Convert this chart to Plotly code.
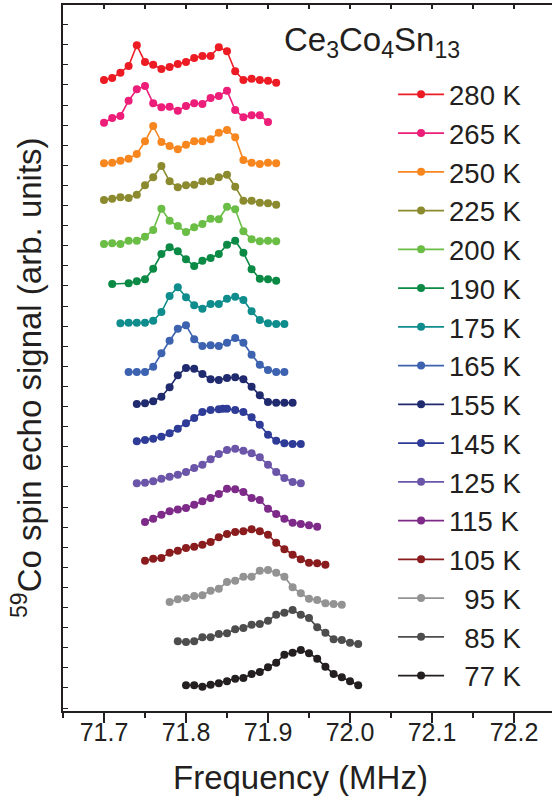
import plotly.graph_objects as go

# Frequency grid (MHz)
FREQ = [71.70, 71.71, 71.72, 71.73, 71.74, 71.75, 71.76, 71.77, 71.78, 71.79,
        71.80, 71.81, 71.82, 71.83, 71.84, 71.85, 71.86, 71.87, 71.88, 71.89,
        71.90, 71.91, 71.92, 71.93, 71.94, 71.95, 71.96, 71.97, 71.98, 71.99,
        72.00, 72.01]

temps = ["280 K", "265 K", "250 K", "225 K", "200 K", "190 K", "175 K", "165 K",
         "155 K", "145 K", "125 K", "115 K", "105 K", "\u200795 K", "\u200785 K", "\u200777 K"]

colors = ["#ed1c24", "#ec1e79", "#f7861f", "#8c8a2e", "#6abd45", "#0b8a45",
          "#0f8c8c", "#3c62b0", "#202a6e", "#2e3b97", "#6a55a8", "#7d2a88",
          "#8a1c1e", "#939393", "#4d4d4d", "#231f20"]

# vertical stacking offsets (arb. units)
offsets = [630, 588, 547, 506, 467, 427, 387, 339, 307, 267, 227, 184, 146, 106, 67, 24]

# spin echo signals (arb. units), baseline subtracted
s280 = [1, 3, 8.3, 15, 35.7, 19, 16.3, 12, 14, 17, 19, 23, 25, 25, 33.7, 29.7, 9.7, 1, 2.3, 1, 0.3, -1.7]
s265 = [0.3, 5, 7, 22.3, 33.7, 37, 19.7, 15.7, 16.3, 12.3, 17, 19.7, 19, 25, 27, 32.3, 13, 5.7, 7.7, 7.7, 1]
s250 = [0.7, 1.3, 3.3, 5.3, 10, 22.7, 38, 22, 18, 14.7, 19.3, 22.7, 22.7, 24.7, 31.3, 34, 26.7, 4, 1.3, 0, 1.3, 0.7]
s225 = [5, 6.3, 7.7, 7, 10.3, 19.7, 27.7, 39, 23.7, 17.7, 19.7, 20.3, 23.7, 23.7, 27.7, 30.3, 18.3, 4.3, 4.3, 2.3, 1.7, 0.3]
s200 = [0, 0.7, 0, 3.3, 3.3, 7.3, 14, 35.3, 23.3, 18, 12, 16.7, 20, 25.3, 24.7, 37.3, 34.7, 12.7, 4.7, 2.7, 3.3, 2.7]
s190 = [0, 0.7, 2.7, 4.7, 15.3, 30, 36.7, 32.7, 24.7, 18, 23.3, 26, 30, 39.3, 43.3, 31.3, 14.7, 5.3, 4.7, 3.3]
s175 = [0.7, 1.3, 1.3, 1.3, 3.3, 12, 28, 36.7, 26.7, 18.7, 15.3, 20, 20, 25.3, 27.3, 24, 12.7, 4, 0.7, 0, 0]
s165 = [0, 0, 0, 5.3, 18.7, 31.3, 43.3, 46.7, 32.7, 26, 26.7, 26, 29.3, 34, 29.3, 17.3, 7.3, 2, 0, 0]
s155 = [0, 0.7, 2.7, 7.3, 16.7, 28.7, 36, 35.3, 30, 24.7, 24, 26, 26.7, 24.7, 17.3, 8.7, 2, 1.3, 1.3, 1.3]
s145 = [2.7, 4, 5.3, 7.3, 10.7, 15.3, 20.7, 26, 32, 34, 34.7, 35.3, 35.3, 34, 32, 26.7, 19.3, 9.3, 3.3, 0.7, 0, 0]
s125 = [0.7, 1.3, 2.7, 5.3, 7.3, 9.3, 12, 16, 19.3, 24.7, 30, 34, 35.3, 33.3, 30.7, 26.7, 19.3, 12, 6, 2, 0.7]
s115 = [5, 8.3, 12.3, 15.7, 17.5, 19, 22.3, 25.7, 29, 33, 38.3, 37.7, 35, 29, 27, 18.3, 13, 8.3, 4.3, 3, 1.7, 0.3]
s105 = [4.3, 6.3, 7, 12.3, 14.3, 17, 18.3, 20.3, 23, 27.7, 31, 33, 33.7, 35.7, 33.7, 30.3, 22.3, 15.7, 10.3, 5.7, 2.3, 1.7, 0.3]
s95 = [3, 5.7, 7, 9, 9.7, 14.3, 16.3, 23, 24.3, 28.3, 28.3, 34.3, 35, 32.3, 28.3, 17.7, 11.7, 6.3, 5, 1.7, 1, 0.3]
s85 = [2.7, 2, 2.7, 6.7, 6.7, 10, 10.7, 14.7, 16, 19.3, 20, 23.3, 29.3, 31.3, 34, 29.3, 26, 16.7, 11.3, 4.7, 4, 1.3, 0]
s77 = [1.7, 1.7, 0.3, 2.3, 3.7, 5.7, 8.3, 9, 13, 15, 19.7, 24.3, 32.3, 34.3, 37, 33.7, 28.3, 20.3, 13, 9.7, 5.7, 1.7]

f190 = [71.71] + FREQ[3:22]
f145 = FREQ[4:15] + [71.845] + FREQ[15:25]

signals = [s280, s265, s250, s225, s200, s190, s175, s165, s155, s145, s125, s115, s105, s95, s85, s77]
freqs = [FREQ[0:22], FREQ[0:21], FREQ[0:22], FREQ[0:22], FREQ[0:22], f190, FREQ[2:23], FREQ[3:23],
         FREQ[4:24], f145, FREQ[4:25], FREQ[5:27], FREQ[5:28], FREQ[8:30], FREQ[9:32], FREQ[10:32]]

FONT = "Liberation Sans, Arial, sans-serif"
TXT = "#231f20"

fig = go.Figure()
for name, col, off, sig, fr in zip(temps, colors, offsets, signals, freqs):
    fig.add_trace(go.Scatter(
        x=fr, y=[off + v for v in sig], name=name, mode="lines+markers",
        line=dict(color=col, width=1.6),
        marker=dict(color=col, size=8),
    ))
# empty trace so the top (mirror) axis is drawn
fig.add_trace(go.Scatter(x=[], y=[], xaxis="x2", showlegend=False, hoverinfo="skip"))

x0, x1 = 71.65, 71.65 + 489 / 820

fig.update_layout(
    width=552, height=800,
    margin=dict(l=63, r=0, t=5, b=89),
    plot_bgcolor="white", paper_bgcolor="white",
    font=dict(family=FONT, color=TXT),
    showlegend=True,
    legend=dict(x=0.675, y=0.908, xanchor="left", yanchor="top",
                font=dict(size=27.5, family=FONT, color=TXT),
                bgcolor="rgba(0,0,0,0)", itemwidth=46),
    xaxis=dict(range=[x0, x1], tick0=71.7, dtick=0.1, tickformat=".1f",
               ticks="outside", ticklen=10, tickwidth=1.5, tickcolor=TXT,
               showline=True, linewidth=2, linecolor=TXT,
               showgrid=False, zeroline=False, ticklabelstandoff=-12,
               tickfont=dict(size=25, family=FONT, color=TXT),
               minor=dict(dtick=0.05, tick0=71.65, ticks="outside", ticklen=5,
                          tickwidth=1.5, tickcolor=TXT, showgrid=False)),
    xaxis2=dict(range=[x0, x1], overlaying="x", side="top", anchor="y",
                tick0=71.7, dtick=0.05, ticks="inside", ticklen=4, tickwidth=1.5,
                tickcolor=TXT, showline=True, linewidth=2, linecolor=TXT,
                showticklabels=False, showgrid=False, zeroline=False),
    yaxis=dict(range=[0, 706], tick0=3, dtick=20.1, ticks="inside", ticklen=5,
               tickwidth=1.2, tickcolor=TXT, showticklabels=False,
               showline=True, linewidth=2, linecolor=TXT,
               showgrid=False, zeroline=False),
    annotations=[
        dict(text="Frequency (MHz)", xref="paper", yref="paper",
             x=(300 - 63) / 489, y=(711 - 777) / 706, xanchor="center", yanchor="middle",
             showarrow=False, font=dict(size=33, family=FONT, color=TXT)),
        dict(text="<sup>59</sup>Co spin echo signal (arb. units)", xref="paper", yref="paper",
             x=(27 - 63) / 489, y=(711 - 378) / 706, xanchor="center", yanchor="middle",
             textangle=-90, showarrow=False, font=dict(size=33, family=FONT, color=TXT)),
        dict(text="Ce<sub>3</sub>Co<sub>4</sub>Sn<sub>13</sub>", xref="paper", yref="paper",
             x=(282 - 63) / 489, y=(711 - 42) / 706, xanchor="left", yanchor="middle",
             showarrow=False, font=dict(size=33, family=FONT, color=TXT)),
    ],
)

fig.write_html("out.html", config={"displayModeBar": False},
               post_script="document.body.style.margin='0';")
